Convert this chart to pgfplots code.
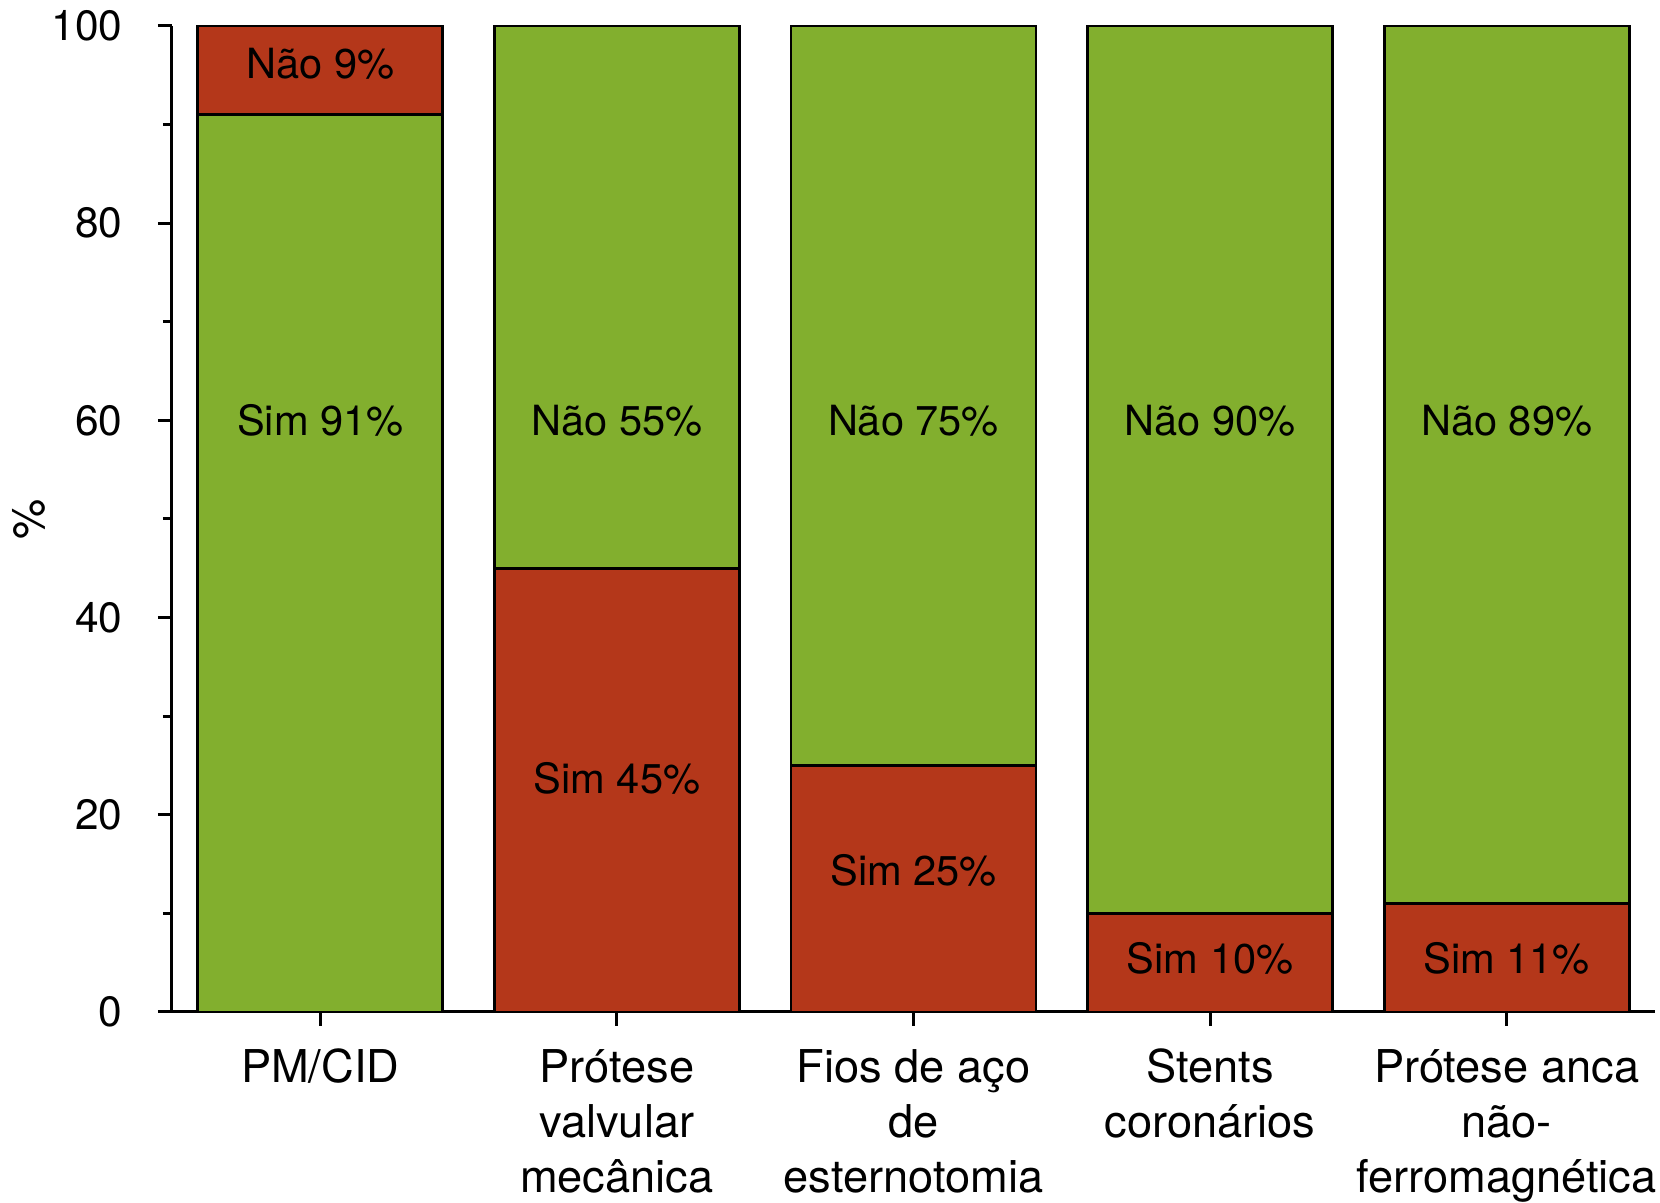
\documentclass[border=0pt]{standalone}
\usepackage{fontspec}
\setmainfont{TeX Gyre Heros}
\usepackage{pgfplots}
\pgfplotsset{compat=1.18}
\definecolor{cgreen}{RGB}{130,175,46}
\definecolor{cred}{RGB}{180,55,26}
\newcommand{\lf}{\fontsize{11.3}{13.75}\selectfont}
\newcommand{\tf}{\fontsize{10.6}{13}\selectfont}
\newcommand{\barf}{\fontsize{10.4}{13}\selectfont}
\begin{document}
\begin{tikzpicture}
\path (-43pt,-47.5pt) rectangle (372pt,253pt);
\begin{axis}[
  at={(0,0)}, anchor=south west,
  scale only axis, width=370.75pt, height=246.5pt,
  xmin=-0.5, xmax=4.5, ymin=0, ymax=100,
  ybar stacked, bar width=61.25pt,
  axis lines*=left,
  clip=false,
  xtick={0,1,2,3,4},
  xticklabels={{\strut PM/CID},{\strut Prótese\\valvular\\mecânica},{\strut Fios de aço\\de\\esternotomia},{\strut Stents\\coronários},{\strut Prótese anca\\não-\\ferromagnética}},
  ytick={0,20,40,60,80,100},
  yticklabels={0,20,40,60,80,100},
  minor ytick={10,30,50,70,90},
  tick align=outside,
  major tick length=3.5pt, minor tick length=2.25pt,
  every tick/.style={line width=0.75pt, black},
  axis line style={line width=0.75pt, black},
  xticklabel style={align=center, anchor=north, inner sep=0pt, yshift=-4.4pt, font=\lf},
  yticklabel style={anchor=east, inner sep=0pt, xshift=-8.75pt, font=\tf},
  ylabel={\%},
  ylabel style={at={(axis description cs:-0.0964,0.5)}, anchor=center, inner sep=0pt, font=\lf},
  every axis plot/.append style={draw=black, line width=0.7pt},
]
\addplot[fill=cred] coordinates {(0,0) (1,45) (2,25) (3,10) (4,11)};
\addplot[fill=cgreen] coordinates {(0,91) (1,0) (2,0) (3,0) (4,0)};
\addplot[fill=cgreen] coordinates {(0,0) (1,55) (2,75) (3,90) (4,89)};
\addplot[fill=cred] coordinates {(0,9) (1,0) (2,0) (3,0) (4,0)};
\coordinate (a1) at (axis cs:0,96.2);
\coordinate (a2) at (axis cs:0,60);
\coordinate (b1) at (axis cs:1,60);
\coordinate (b2) at (axis cs:1,23.7);
\coordinate (c1) at (axis cs:2,60);
\coordinate (c2) at (axis cs:2,14.4);
\coordinate (d1) at (axis cs:3,60);
\coordinate (d2) at (axis cs:3,5.4);
\coordinate (e1) at (axis cs:4,60);
\coordinate (e2) at (axis cs:4,5.4);
\end{axis}
\begin{scope}[every node/.style={font=\barf, inner sep=0pt}]
\node at (a1) {Não 9\%};
\node at (a2) {Sim 91\%};
\node at (b1) {Não 55\%};
\node at (b2) {Sim 45\%};
\node at (c1) {Não 75\%};
\node at (c2) {Sim 25\%};
\node at (d1) {Não 90\%};
\node at (d2) {Sim 10\%};
\node at (e1) {Não 89\%};
\node at (e2) {Sim 11\%};
\end{scope}
\end{tikzpicture}
\end{document}
